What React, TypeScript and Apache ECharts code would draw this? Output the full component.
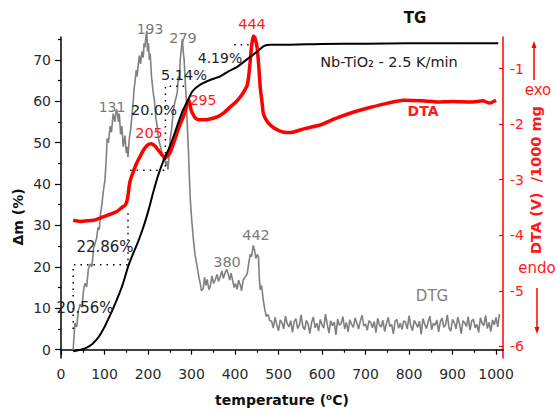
import React, { useEffect, useRef } from "react";
import * as echarts from "echarts";

// ---------- data (temperature °C, value) ----------
const xTicks = [0, 100, 200, 300, 400, 500, 600, 700, 800, 900, 1000];
const leftTicks = [0, 10, 20, 30, 40, 50, 60, 70];
const rightTicks = [-6, -5, -4, -3, -2, -1];

// TG (Δm %)
const tgData: number[][] = [
  [28, -0.4], [45, 0], [59, 0.5], [72, 1.4], [83, 2.6], [92, 4], [101, 5.7], [110, 7.7],
  [120, 10], [130, 12.5], [140, 15.2], [147, 17.5], [154, 20], [165, 23], [175, 25.5],
  [184, 28], [193, 30.8], [202, 34], [212, 38], [223, 42], [235, 45.5], [251, 49.3],
  [267, 54], [281, 58], [293, 60.5], [302, 62.4], [320, 64], [340, 65], [366, 66],
  [385, 67.2], [405, 68.3], [420, 69.5], [435, 70.7], [451, 72], [466, 73.3], [482, 73.6],
  [505, 73.6], [600, 73.8], [700, 73.9], [800, 74], [900, 74], [1005, 74],
];

// DTA (V / 1000 mg)
const dtaData: number[][] = [
  [28, -3.73], [44, -3.75], [60, -3.74], [74, -3.73], [90, -3.69], [106, -3.64], [120, -3.6],
  [129, -3.57], [140, -3.5], [147, -3.46], [151, -3.4], [154, -3.29], [157, -3.1], [160, -2.99],
  [166, -2.86], [174, -2.7], [182, -2.58], [190, -2.46], [198, -2.38], [207, -2.35], [212, -2.37],
  [217, -2.4], [222, -2.45], [228, -2.51], [234, -2.57], [240, -2.6], [245, -2.57], [251, -2.51],
  [258, -2.36], [267, -2.15], [274, -2.0], [281, -1.87], [287, -1.72], [293, -1.57], [296, -1.62],
  [299, -1.74], [304, -1.83], [309, -1.89], [318, -1.92], [327, -1.92], [340, -1.91], [359, -1.87],
  [375, -1.79], [389, -1.69], [402, -1.6], [412, -1.51], [420, -1.42], [428, -1.3], [432, -1.1],
  [435, -0.86], [438, -0.6], [442, -0.41], [446, -0.45], [451, -0.63], [455, -1.0], [458, -1.34],
  [462, -1.6], [465, -1.8], [470, -1.9], [477, -1.98], [488, -2.06], [505, -2.13], [520, -2.15],
  [535, -2.14], [560, -2.08], [597, -2.01], [630, -1.9], [673, -1.78], [710, -1.7], [751, -1.62],
  [788, -1.57], [830, -1.58], [866, -1.6], [900, -1.59], [942, -1.6], [970, -1.58], [985, -1.62],
  [1000, -1.57],
];

// DTG (left scale)
const dtgMain: number[][] = [
  [28, 0], [30, 3.5], [32, 6.4], [36, 5.5], [40, 9.5], [44, 11], [48, 10.2], [52, 14.5], [55, 16],
  [59, 15.2], [63, 19.5], [67, 20.7], [71, 20], [75, 24.5], [78, 25.5], [82, 27], [85, 29.5],
  [88, 29], [91, 33], [94, 35], [97, 38], [101, 41], [104, 46], [106, 51], [109, 50], [113, 54],
  [116, 52.5], [120, 57], [124, 55], [127, 58], [129, 57.6], [132, 55], [134, 57], [137, 52],
  [140, 54], [143, 49], [147, 51.7], [150, 47.5], [152, 49], [154, 46.5], [157, 51], [160, 53],
  [163, 56.4], [166, 60], [168, 63], [170, 64.5], [173, 67.5], [175, 66], [177, 68.3], [180, 71],
  [183, 69], [186, 72], [189, 70.5], [191, 74], [193, 73], [195, 75.5], [197, 77], [199, 72],
  [201, 74], [203, 70], [205, 71.5], [208, 66], [212, 62], [215, 60], [218, 56], [221, 54],
  [224, 51], [228, 49.3], [231, 48], [235, 46], [238, 47], [241, 44.5], [244, 45.5], [246, 43.5],
  [249, 48], [251, 51], [254, 53], [258, 57.4], [262, 60], [265, 61], [267, 62], [270, 66],
  [272, 65], [274, 70], [277, 73], [279, 75], [281, 72], [283, 70], [286, 64], [288, 60.5],
  [290, 55], [293, 47.8], [295, 42], [297, 36.7], [300, 31.9], [304, 27], [308, 23], [313, 20],
  [317, 17.5], [320, 16], [323, 14.2], [327, 14.8], [330, 17.5], [333, 15.5], [336, 17],
  [340, 14.5], [343, 15.2], [347, 17.8], [351, 16], [355, 17], [359, 18.2], [362, 16.5],
  [366, 17.6], [370, 19], [373, 17.2], [378, 18.8], [381, 19.4], [385, 18], [388, 16.8],
  [391, 18.5], [394, 17], [398, 15], [401, 16], [405, 14.6], [408, 16.8], [412, 15.7], [415, 14.2],
  [419, 16.9], [423, 17.5], [428, 18.3], [431, 20.5], [435, 23], [438, 22.5], [442, 25.2],
  [445, 24], [448, 22], [451, 23], [454, 22.4], [456, 17], [458, 14.5], [461, 15.5], [465, 12],
  [468, 10], [472, 8], [476, 8.5], [480, 7],
];
const dtgTailStart = 484;
const dtgTailStep = 4;
const dtgTail: number[] = [
  6.9, 5.2, 7.8, 6.1, 4.6, 7.2, 6.5, 5.0, 8.1, 6.3, 5.5, 7.0, 4.2, 6.8, 7.5, 5.1, 6.0, 8.4, 5.6, 4.8,
  7.1, 6.2, 3.9, 6.6, 7.9, 5.3, 6.4, 4.5, 7.3, 6.0, 5.2, 8.6, 6.1, 4.0, 7.0, 5.8, 6.7, 3.6, 7.4, 5.9,
  6.3, 8.0, 5.0, 6.6, 4.3, 7.2, 6.1, 5.4, 7.7, 6.4, 5.0, 6.9, 8.3, 5.7, 6.2, 4.7, 7.0, 6.5, 5.3, 6.8,
  4.1, 7.6, 6.0, 5.5, 7.1, 4.4, 6.3, 7.8, 5.6, 6.1, 3.8, 6.9, 7.3, 5.2, 6.4, 4.9, 7.0, 6.6, 5.0, 8.2,
  5.8, 4.6, 7.1, 6.3, 5.4, 6.9, 3.7, 7.5, 6.2, 5.1, 6.7, 8.1, 4.8, 6.4, 5.9, 7.2, 4.3, 6.8, 7.6, 5.4,
  6.0, 8.4, 5.2, 4.5, 7.3, 6.6, 5.0, 7.9, 6.2, 3.9, 7.0, 6.5, 5.6, 8.0, 4.7, 6.9, 7.4, 5.3, 6.1, 4.2,
  7.7, 6.4, 5.8, 8.3, 5.1, 6.6, 4.4, 7.2, 6.0, 7.8, 5.5, 8.6,
];

// dotted step guides (temperature, Δm)
const guideSegments: number[][][] = [
  [[28, 5], [28, 20.5], [154, 20.5], [154, 33.5]],
  [[159, 43.3], [240, 43.3], [240, 63.6], [290, 63.6]],
  [[398, 73.6], [432, 73.6]],
];

const FONT = '"DejaVu Sans", "Liberation Sans", sans-serif';

export default function App() {
  const ref = useRef<HTMLDivElement>(null);

  useEffect(() => {
    if (!ref.current) return;
    const chart = echarts.init(ref.current, null, { renderer: "svg" });

    const dtgData = dtgMain.concat(
      dtgTail.map((v, i) => [dtgTailStart + i * dtgTailStep, v])
    );

    const txt = (
      text: string,
      x: number,
      y: number,
      fill: string,
      size: number,
      bold = false,
      rotation = 0
    ) => ({
      type: "text",
      x,
      y,
      rotation,
      z: 100,
      style: {
        text,
        fill,
        font: `${bold ? "bold " : ""}${size}px ${FONT}`,
        textAlign: "center",
        textVerticalAlign: "middle",
      },
    });

    const plain = (v: number) => String(v);

    const option: any = {
      animation: false,
      backgroundColor: "#ffffff",
      grid: { left: 61, right: 54, top: 37, bottom: 50 },
      xAxis: {
        type: "value",
        min: 0,
        max: 1016,
        interval: 100,
        axisLine: { show: true, lineStyle: { color: "#000", width: 1.5 } },
        axisTick: { show: true, customValues: xTicks, length: 5, lineStyle: { color: "#000", width: 1.2 } },
        minorTick: { show: true, splitNumber: 2, length: 3, lineStyle: { color: "#000", width: 1.2 } },
        axisLabel: { customValues: xTicks, formatter: plain, margin: 9, color: "#2a2a2a", fontSize: 14, fontFamily: FONT },
        splitLine: { show: false },
        minorSplitLine: { show: false },
        name: "temperature (⁰C)",
        nameLocation: "middle",
        nameGap: 35,
        nameTextStyle: { color: "#111", fontSize: 14, fontWeight: "bold", fontFamily: FONT },
      },
      yAxis: [
        {
          type: "value",
          position: "left",
          min: -2,
          max: 75.5,
          splitNumber: 8,
          axisLine: { show: true, lineStyle: { color: "#000", width: 1.5 } },
          axisTick: { show: true, customValues: leftTicks, length: 6, lineStyle: { color: "#000", width: 1.2 } },
          minorTick: { show: true, splitNumber: 2, length: 3, lineStyle: { color: "#000", width: 1.2 } },
          axisLabel: { customValues: leftTicks, formatter: plain, margin: 10, color: "#2a2a2a", fontSize: 14, fontFamily: FONT },
          splitLine: { show: false },
          minorSplitLine: { show: false },
        },
        {
          type: "value",
          position: "right",
          min: -6.21,
          max: -0.43,
          axisLine: { show: true, lineStyle: { color: "#ff0000", width: 1.5 } },
          axisTick: { show: true, inside: true, customValues: rightTicks, length: 4, lineStyle: { color: "#ff0000", width: 1.2 } },
          axisLabel: { customValues: rightTicks, formatter: plain, margin: 7, color: "#ff2020", fontSize: 14, fontFamily: FONT },
          splitLine: { show: false },
        },
      ],
      series: [
        {
          type: "line",
          name: "DTG",
          data: dtgData,
          yAxisIndex: 0,
          showSymbol: false,
          clip: false,
          lineStyle: { color: "#808080", width: 1.6 },
          z: 2,
        },
        {
          type: "line",
          name: "DTA",
          data: dtaData,
          yAxisIndex: 1,
          showSymbol: false,
          clip: false,
          smooth: 0.2,
          lineStyle: { color: "#ff0000", width: 3.5 },
          z: 3,
        },
        {
          type: "line",
          name: "TG",
          data: tgData,
          yAxisIndex: 0,
          showSymbol: false,
          clip: false,
          smooth: 0.2,
          lineStyle: { color: "#000000", width: 2 },
          z: 4,
        },
        ...guideSegments.map((seg) => ({
          type: "line",
          data: seg,
          yAxisIndex: 0,
          showSymbol: false,
          silent: true,
          lineStyle: { color: "#000", width: 1.5, type: [1.5, 5] },
          z: 5,
        })),
      ],
      graphic: [
        txt("131", 112, 107, "#7a7a7a", 14),
        txt("193", 150, 29, "#7a7a7a", 14),
        txt("279", 183, 38, "#7a7a7a", 14.5),
        txt("380", 227, 262, "#7a7a7a", 14.5),
        txt("442", 256, 235, "#7a7a7a", 14.5),
        txt("444", 252, 24, "#ff1a1a", 14.5),
        txt("295", 203, 100, "#ff1a1a", 14),
        txt("205", 149, 133, "#ff1a1a", 14.5),
        txt("5.14%", 184, 75, "#222", 14.5),
        txt("4.19%", 220, 58, "#222", 14),
        txt("20.0%", 154, 110, "#222", 14.5),
        txt("22.86%", 105, 247, "#222", 15),
        txt("20.56%", 85, 308, "#222", 15),
        txt("TG", 415, 18, "#111", 15, true),
        txt("Nb-TiO₂ - 2.5 K/min", 389, 62, "#222", 14.5),
        txt("DTA", 423, 111, "#ff1a1a", 14, true),
        txt("DTG", 432, 296, "#808080", 15),
        txt("Δm (%)", 18, 217, "#111", 14, true, Math.PI / 2),
        txt("DTA (V)  /1000 mg", 536, 180, "#ff1a1a", 14.5, true, Math.PI / 2),
        txt("exo", 538, 90, "#ff1a1a", 15),
        txt("endo", 537, 268, "#ff1a1a", 15),
        {
          type: "line",
          z: 100,
          shape: { x1: 534, y1: 80, x2: 534, y2: 46 },
          style: { stroke: "#ff0000", lineWidth: 1.5 },
        },
        {
          type: "polygon",
          z: 100,
          shape: { points: [[531.5, 48], [536.5, 48], [534, 41]] },
          style: { fill: "#ff0000" },
        },
        {
          type: "line",
          z: 100,
          shape: { x1: 537, y1: 288, x2: 537, y2: 329 },
          style: { stroke: "#ff0000", lineWidth: 1.5 },
        },
        {
          type: "polygon",
          z: 100,
          shape: { points: [[534.5, 327], [539.5, 327], [537, 334]] },
          style: { fill: "#ff0000" },
        },
      ],
    };

    chart.setOption(option);
    return () => chart.dispose();
  }, []);

  return (
    <div
      ref={ref}
      style={{ position: "absolute", left: 0, top: 0, width: 557, height: 412 }}
    />
  );
}
